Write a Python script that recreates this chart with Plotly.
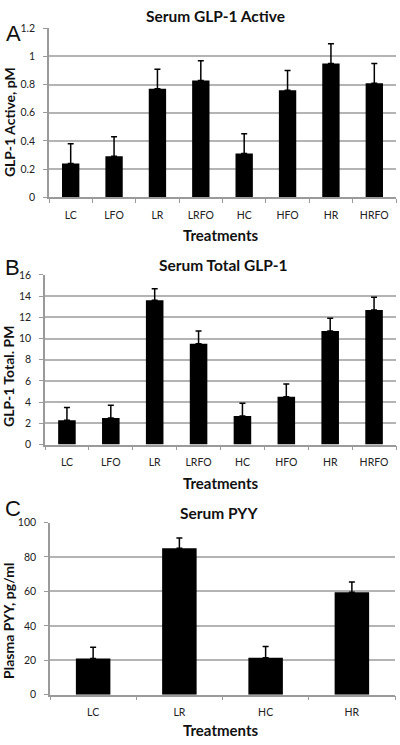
import plotly.graph_objects as go

# Panel A: Serum GLP-1 Active
cats_a = ["LC", "LFO", "LR", "LRFO", "HC", "HFO", "HR", "HRFO"]
vals_a = [0.24, 0.29, 0.77, 0.83, 0.31, 0.76, 0.95, 0.81]
errs_a = [0.14, 0.14, 0.14, 0.14, 0.14, 0.14, 0.14, 0.14]
ticks_a = [0, 0.2, 0.4, 0.6, 0.8, 1, 1.2]

# Panel B: Serum Total GLP-1
cats_b = ["LC", "LFO", "LR", "LRFO", "HC", "HFO", "HR", "HRFO"]
vals_b = [2.3, 2.5, 13.6, 9.5, 2.7, 4.5, 10.7, 12.7]
errs_b = [1.2, 1.2, 1.1, 1.2, 1.2, 1.2, 1.2, 1.2]
ticks_b = [0, 2, 4, 6, 8, 10, 12, 14, 16]

# Panel C: Serum PYY
cats_c = ["LC", "LR", "HC", "HR"]
vals_c = [21, 85, 21.5, 59.5]
errs_c = [6.5, 6, 6.5, 6]
ticks_c = [0, 20, 40, 60, 80, 100]

W, H = 400, 745
FONT = "Lato"
GRID = "#b4b4b4"
AXIS = "#9a9a9a"

panels = [
    dict(c=cats_a, v=vals_a, e=errs_a, t=ticks_a, title="Serum GLP-1 Active", yt="GLP-1 Active, pM",
         letter="A", x0=49, x1=396, top=22.7, bot=194.3, ty=10, tx=215, xty=233, ytp=(9, 118), lp=(13, 28), rng=[0, 1.2]),
    dict(c=cats_b, v=vals_b, e=errs_b, t=ticks_b, title="Serum Total GLP-1", yt="GLP-1 Total. PM",
         letter="B", x0=45, x1=396, top=273.3, bot=445.7, ty=263, tx=223, xty=485, ytp=(9, 377), lp=(12, 266), rng=[0, 16]),
    dict(c=cats_c, v=vals_c, e=errs_c, t=ticks_c, title="Serum PYY", yt="Plasma PYY, pg/ml",
         letter="C", x0=50, x1=395, top=525, bot=700, ty=515, tx=219, xty=736, ytp=(9, 625), lp=(13, 511), rng=[0, 100]),
]

fig = go.Figure()
layout = dict(width=W, height=H, margin=dict(l=0, r=0, t=0, b=0),
              paper_bgcolor="white", plot_bgcolor="white", showlegend=False,
              bargap=0.6, annotations=[])

for i, p in enumerate(panels, start=1):
    xa = "x" if i == 1 else f"x{i}"
    ya = "y" if i == 1 else f"y{i}"
    fig.add_trace(go.Bar(
        x=p["c"], y=p["v"], xaxis=xa, yaxis=ya,
        marker=dict(color="black", line=dict(width=0)),
        error_y=dict(type="data", symmetric=False, array=p["e"],
                     arrayminus=[0] * len(p["e"]), color="black", thickness=1.5, width=3),
    ))
    xkey = "xaxis" if i == 1 else f"xaxis{i}"
    ykey = "yaxis" if i == 1 else f"yaxis{i}"
    layout[xkey] = dict(
        domain=[p["x0"] / W, p["x1"] / W], anchor=ya, type="category",
        showline=True, linecolor=AXIS, linewidth=1.5,
        ticks="outside", tickson="boundaries", ticklen=4, tickcolor=AXIS, tickwidth=1,
        tickfont=dict(family=FONT, size=10.5, color="#222"), ticklabelstandoff=7,
        showgrid=False, fixedrange=True,
    )
    layout[ykey] = dict(
        domain=[1 - p["bot"] / H, 1 - p["top"] / H], anchor=xa,
        range=p["rng"], tickvals=p["t"], ticktext=[str(t) for t in p["t"]],
        showline=True, linecolor=AXIS, linewidth=1.5,
        ticks="outside", ticklen=4, tickcolor=AXIS, tickwidth=1,
        tickfont=dict(family=FONT, size=10.5, color="#222"), ticklabelstandoff=6,
        showgrid=True, gridcolor=GRID, gridwidth=1.5, zeroline=False, fixedrange=True,
    )
    anns = layout["annotations"]
    anns.append(dict(text=f"<b>{p['title']}</b>", x=p["tx"] / W, y=1 - p["ty"] / H,
                     xref="paper", yref="paper", showarrow=False, xanchor="center", yanchor="middle",
                     font=dict(family=FONT, size=15.5, color="#111")))
    anns.append(dict(text="<b>Treatments</b>", x=220 / W, y=1 - p["xty"] / H,
                     xref="paper", yref="paper", showarrow=False, xanchor="center", yanchor="middle",
                     font=dict(family=FONT, size=15, color="#111")))
    anns.append(dict(text=f"<b>{p['yt']}</b>", x=p["ytp"][0] / W, y=1 - p["ytp"][1] / H,
                     xref="paper", yref="paper", showarrow=False, xanchor="center", yanchor="middle",
                     textangle=-90, font=dict(family=FONT, size=14, color="#111")))
    anns.append(dict(text=p["letter"], x=p["lp"][0] / W, y=1 - p["lp"][1] / H,
                     xref="paper", yref="paper", showarrow=False, xanchor="center", yanchor="middle",
                     font=dict(family="Liberation Sans", size=22, color="#111")))

fig.update_layout(**layout)
fig.write_html("out.html", config={"displayModeBar": False},
               post_script="document.body.style.margin='0';document.body.style.overflow='hidden';")
